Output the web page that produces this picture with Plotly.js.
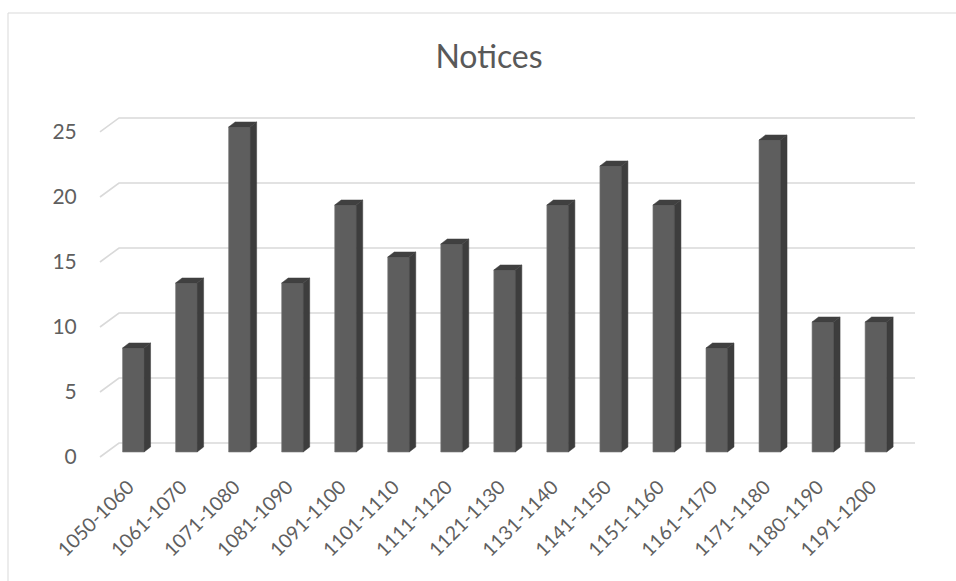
<!DOCTYPE html>
<html>
<head>
<meta charset="utf-8">
<script src="https://cdn.plot.ly/plotly-3.0.1.min.js"></script>
<style>html,body{margin:0;padding:0;background:#fff;}#chart{width:956px;height:581px;}</style>
</head>
<body>
<div id="chart"></div>
<script>
var categories = ["1050-1060","1061-1070","1071-1080","1081-1090","1091-1100","1101-1110","1111-1120","1121-1130","1131-1140","1141-1150","1151-1160","1161-1170","1171-1180","1180-1190","1191-1200"];
var notices = [8, 13, 25, 13, 19, 15, 16, 14, 19, 22, 19, 8, 24, 10, 10];
var yTicks = [0, 5, 10, 15, 20, 25];

// 3D look constants (style only)
var W = 956, H = 581;
var mL = 100, mR = 41, mT = 100, mB = 118;
var xr = [-0.628, 14.738], yr = [-6/13, 27.46];
var pxX = (W - mL - mR) / (xr[1] - xr[0]);
var pxY = (H - mT - mB) / (yr[1] - yr[0]);
var barBase = 5 / pxY;          // bar plane above front plane
var barW = 21.5 / pxX;
var sideDX = 6.5 / pxX, sideDY = 5 / pxY;
var backDX = 19 / (W - mL - mR), backDY = 14 / pxY;

var idx = categories.map(function(_, i){ return i; });

var sideX = [], sideY = [], topX = [], topY = [];
idx.forEach(function(i){
  var v = notices[i];
  var x0 = i - barW/2, x1 = i + barW/2, x2 = x1 + sideDX;
  var b = barBase, t = barBase + v;
  sideX.push(x1, x1, x2, x2, x1, null);
  sideY.push(b, t, t + sideDY, b + sideDY, b, null);
  topX.push(x0, x1, x2, x0 + sideDX, x0, null);
  topY.push(t, t, t + sideDY, t + sideDY, t, null);
});

var traces = [
  {type:'bar', x: idx, y: notices, base: barBase, width: barW,
   marker:{color:'#5e5e5e', line:{color:'#7a7a7a', width:0.6}}, hoverinfo:'skip', showlegend:false},
  {type:'scatter', mode:'lines', x: sideX, y: sideY, fill:'toself', fillcolor:'#3d3d3d',
   line:{color:'#3d3d3d', width:0.5}, hoverinfo:'skip', showlegend:false},
  {type:'scatter', mode:'lines', x: topX, y: topY, fill:'toself', fillcolor:'#404040',
   line:{color:'#404040', width:0.5}, hoverinfo:'skip', showlegend:false}
];

var shapes = yTicks.map(function(v){
  return {type:'path', xref:'paper', yref:'y', layer:'below',
    path: 'M 0,' + v + ' L ' + backDX + ',' + (v + backDY) + ' L 1,' + (v + backDY),
    line:{color:'#d9d9d9', width:1.6}};
});
shapes.push({type:'rect', xref:'paper', yref:'paper', layer:'below',
  x0: (8 - mL) / (W - mL - mR), x1: 1.2,
  y0: -0.5, y1: (H - mB - 13) / (H - mT - mB),
  line:{color:'#d9d9d9', width:1}, fillcolor:'rgba(0,0,0,0)'});

var tickFont = {family:'Lato, "Liberation Sans", sans-serif', size:21, color:'#5f5f5f'};
var xTickFont = {family:'Lato, "Liberation Sans", sans-serif', size:19.5, color:'#5f5f5f'};

var layout = {
  width: W, height: H,
  margin:{l:mL, r:mR, t:mT, b:mB, pad:0},
  paper_bgcolor:'#ffffff', plot_bgcolor:'rgba(0,0,0,0)',
  title:{text:'Notices', x: 489/W, xanchor:'center', y: 1 - 57/H, yanchor:'middle',
    font:{family:'Lato, "Liberation Sans", sans-serif', size:32, color:'#595959'}},
  xaxis:{range: xr, tickvals: idx, ticktext: categories, tickangle:-45,
    showgrid:false, zeroline:false, showline:false, ticklabelshift:-5,
    ticks:'outside', ticklen:4, tickcolor:'rgba(0,0,0,0)', tickfont: xTickFont, fixedrange:true},
  yaxis:{range: yr, tickvals: yTicks, showgrid:false, zeroline:false, showline:false,
    ticks:'outside', ticklen:18, tickcolor:'rgba(0,0,0,0)', tickfont: tickFont, fixedrange:true},
  shapes: shapes,
  showlegend:false,
  bargap:0
};

Plotly.newPlot('chart', traces, layout, {displayModeBar:false, staticPlot:true});
</script>
</body>
</html>
